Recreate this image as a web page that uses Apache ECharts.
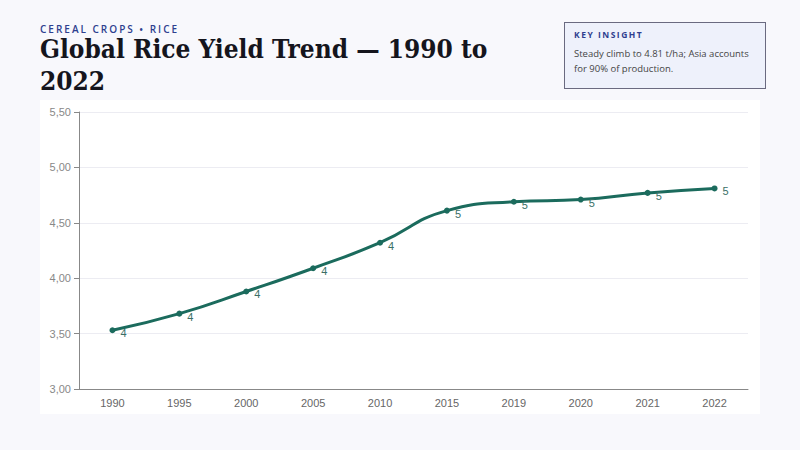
<!DOCTYPE html>
<html><head><meta charset="utf-8">
<script src="https://cdn.jsdelivr.net/npm/echarts@6/dist/echarts.min.js"></script>
<style>
  body { margin:0; width:800px; height:450px; background:#f8f8fc; position:relative; overflow:hidden; font-family:"Open Sans",sans-serif; }
  .kicker { position:absolute; left:40px; top:22px; font-size:10px; letter-spacing:2px; color:#2e3f8f; font-weight:600; }
  h1 { position:absolute; left:40px; top:33px; margin:0; width:480px; font-family:"DejaVu Serif Condensed","DejaVu Serif",serif; font-stretch:condensed; font-weight:bold; font-size:26px; line-height:32px; color:#15151d; }
  .insight { position:absolute; left:564px; top:22px; width:202px; height:67px; box-sizing:border-box; border:1px solid #6a6a80; background:#eef1fb; padding:6px 9px; }
  .insight b { display:block; font-size:8.5px; letter-spacing:1.5px; color:#2e3f8f; margin-bottom:6px; }
  .insight p { margin:0; font-size:9.5px; line-height:15px; color:#444; }
  #chart { position:absolute; left:40px; top:100px; width:720px; height:314px; background:#fff; }
</style></head>
<body>
<div class="kicker">CEREAL CROPS • RICE</div>
<h1>Global Rice Yield Trend — 1990 to 2022</h1>
<div class="insight"><b>KEY INSIGHT</b><p>Steady climb to 4.81 t/ha; Asia accounts for 90% of production.</p></div>
<div id="chart"></div>
<script>
var years = ['1990','1995','2000','2005','2010','2015','2019','2020','2021','2022'];
var yieldTha = [3.53, 3.68, 3.88, 4.09, 4.32, 4.61, 4.69, 4.71, 4.77, 4.81];
var lineColor = '#1b6b5d';

var chart = echarts.init(document.getElementById('chart'), null, { renderer: 'svg' });
chart.setOption({
  animation: false,
  grid: { left: 39, right: 12, top: 12, bottom: 25 },
  xAxis: {
    type: 'category', data: years, boundaryGap: true,
    axisLine: { lineStyle: { color: '#888' } },
    axisTick: { alignWithLabel: true, lineStyle: { color: '#888' } },
    axisLabel: { color: '#666', fontSize: 11 }
  },
  yAxis: {
    type: 'value', min: 3, max: 5.5, interval: 0.5,
    axisLine: { show: true, lineStyle: { color: '#888' } },
    axisTick: { show: true, lineStyle: { color: '#888' } },
    splitLine: { lineStyle: { color: '#ececf2' } },
    axisLabel: { color: '#888', fontSize: 11, formatter: function (v) { return v.toFixed(2).replace('.', ','); } }
  },
  series: [{
    type: 'line', data: yieldTha, smooth: true,
    symbol: 'circle', symbolSize: 6,
    lineStyle: { color: lineColor, width: 3 },
    itemStyle: { color: lineColor },
    label: { show: true, position: 'right', offset: [0, 3], color: '#3a6f66', fontSize: 11,
      formatter: function (p) { return Math.round(p.value); } }
  }]
});
</script>
</body></html>
